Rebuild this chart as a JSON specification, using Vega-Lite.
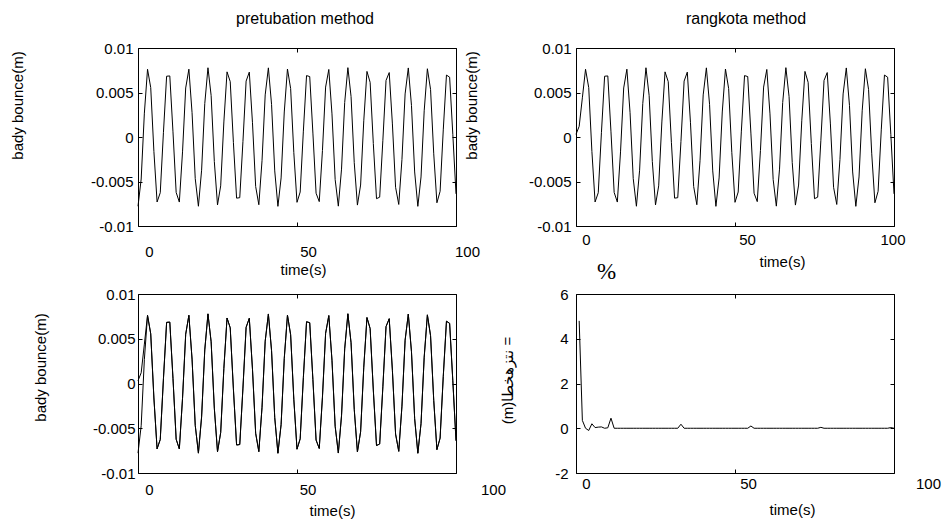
{
  "$schema": "https://vega.github.io/schema/vega-lite/v6.json",
  "background": "white",
  "padding": {"left": 9, "top": 10, "right": 0, "bottom": 0},
  "bounds": "flush",
  "columns": 2,
  "spacing": {"row": 68, "column": 120},
  "datasets": {
    "sol": [
      {"t":0,"pert":-0.00778,"rk":0.0003},{"t":1,"pert":-0.00472,"rk":0.0012},{"t":2,"pert":0.00268,"rk":0.0044},
      {"t":3,"pert":0.00761,"rk":0.00761},{"t":4,"pert":0.00555,"rk":0.00555},{"t":5,"pert":-0.00162,"rk":-0.00162},
      {"t":6,"pert":-0.0073,"rk":-0.0073},{"t":7,"pert":-0.00626,"rk":-0.00626},{"t":8,"pert":0.00053,"rk":0.00053},
      {"t":9,"pert":0.00683,"rk":0.00683},{"t":10,"pert":0.00686,"rk":0.00686},{"t":11,"pert":0.00058,"rk":0.00058},
      {"t":12,"pert":-0.00623,"rk":-0.00623},{"t":13,"pert":-0.00731,"rk":-0.00731},{"t":14,"pert":-0.00167,"rk":-0.00167},
      {"t":15,"pert":0.00551,"rk":0.00551},{"t":16,"pert":0.00762,"rk":0.00762},{"t":17,"pert":0.00273,"rk":0.00273},
      {"t":18,"pert":-0.00468,"rk":-0.00468},{"t":19,"pert":-0.00778,"rk":-0.00778},{"t":20,"pert":-0.00373,"rk":-0.00373},
      {"t":21,"pert":0.00375,"rk":0.00375},{"t":22,"pert":0.00778,"rk":0.00778},{"t":23,"pert":0.00466,"rk":0.00466},
      {"t":24,"pert":-0.00275,"rk":-0.00275},{"t":25,"pert":-0.00763,"rk":-0.00763},{"t":26,"pert":-0.00549,"rk":-0.00549},
      {"t":27,"pert":0.00169,"rk":0.00169},{"t":28,"pert":0.00732,"rk":0.00732},{"t":29,"pert":0.00622,"rk":0.00622},
      {"t":30,"pert":-0.0006,"rk":-0.0006},{"t":31,"pert":-0.00687,"rk":-0.00687},{"t":32,"pert":-0.00682,"rk":-0.00682},
      {"t":33,"pert":-0.00051,"rk":-0.00051},{"t":34,"pert":0.00628,"rk":0.00628},{"t":35,"pert":0.00729,"rk":0.00729},
      {"t":36,"pert":0.0016,"rk":0.0016},{"t":37,"pert":-0.00556,"rk":-0.00556},{"t":38,"pert":-0.00761,"rk":-0.00761},
      {"t":39,"pert":-0.00266,"rk":-0.00266},{"t":40,"pert":0.00473,"rk":0.00473},{"t":41,"pert":0.00777,"rk":0.00777},
      {"t":42,"pert":0.00367,"rk":0.00367},{"t":43,"pert":-0.00381,"rk":-0.00381},{"t":44,"pert":-0.00779,"rk":-0.00779},
      {"t":45,"pert":-0.0046,"rk":-0.0046},{"t":46,"pert":0.00281,"rk":0.00281},{"t":47,"pert":0.00764,"rk":0.00764},
      {"t":48,"pert":0.00545,"rk":0.00545},{"t":49,"pert":-0.00176,"rk":-0.00176},{"t":50,"pert":-0.00734,"rk":-0.00734},
      {"t":51,"pert":-0.00618,"rk":-0.00618},{"t":52,"pert":0.00066,"rk":0.00066},{"t":53,"pert":0.0069,"rk":0.0069},
      {"t":54,"pert":0.00679,"rk":0.00679},{"t":55,"pert":0.00044,"rk":0.00044},{"t":56,"pert":-0.00632,"rk":-0.00632},
      {"t":57,"pert":-0.00726,"rk":-0.00726},{"t":58,"pert":-0.00153,"rk":-0.00153},{"t":59,"pert":0.00561,"rk":0.00561},
      {"t":60,"pert":0.00759,"rk":0.00759},{"t":61,"pert":0.0026,"rk":0.0026},{"t":62,"pert":-0.00478,"rk":-0.00478},
      {"t":63,"pert":-0.00777,"rk":-0.00777},{"t":64,"pert":-0.00361,"rk":-0.00361},{"t":65,"pert":0.00387,"rk":0.00387},
      {"t":66,"pert":0.00779,"rk":0.00779},{"t":67,"pert":0.00455,"rk":0.00455},{"t":68,"pert":-0.00288,"rk":-0.00288},
      {"t":69,"pert":-0.00765,"rk":-0.00765},{"t":70,"pert":-0.0054,"rk":-0.0054},{"t":71,"pert":0.00182,"rk":0.00182},
      {"t":72,"pert":0.00737,"rk":0.00737},{"t":73,"pert":0.00614,"rk":0.00614},{"t":74,"pert":-0.00073,"rk":-0.00073},
      {"t":75,"pert":-0.00693,"rk":-0.00693},{"t":76,"pert":-0.00676,"rk":-0.00676},{"t":77,"pert":-0.00037,"rk":-0.00037},
      {"t":78,"pert":0.00636,"rk":0.00636},{"t":79,"pert":0.00724,"rk":0.00724},{"t":80,"pert":0.00147,"rk":0.00147},
      {"t":81,"pert":-0.00565,"rk":-0.00565},{"t":82,"pert":-0.00758,"rk":-0.00758},{"t":83,"pert":-0.00253,"rk":-0.00253},
      {"t":84,"pert":0.00484,"rk":0.00484},{"t":85,"pert":0.00776,"rk":0.00776},{"t":86,"pert":0.00355,"rk":0.00355},
      {"t":87,"pert":-0.00393,"rk":-0.00393},{"t":88,"pert":-0.00779,"rk":-0.00779},{"t":89,"pert":-0.00449,"rk":-0.00449},
      {"t":90,"pert":0.00294,"rk":0.00294},{"t":91,"pert":0.00767,"rk":0.00767},{"t":92,"pert":0.00535,"rk":0.00535},
      {"t":93,"pert":-0.00189,"rk":-0.00189},{"t":94,"pert":-0.00739,"rk":-0.00739},{"t":95,"pert":-0.0061,"rk":-0.0061},
      {"t":96,"pert":0.0008,"rk":0.0008},{"t":97,"pert":0.00696,"rk":0.00696},{"t":98,"pert":0.00672,"rk":0.00672},
      {"t":99,"pert":0.0003,"rk":0.0003},{"t":100,"pert":-0.00639,"rk":-0.00639}
    ],
    "err": [
      {"t":1,"e":4.8},{"t":2,"e":0.35},{"t":3,"e":0},{"t":4,"e":-0.1},{"t":5,"e":0.2},{"t":6,"e":0.03},{"t":7,"e":0.05},
      {"t":8,"e":0.06},{"t":9,"e":0},{"t":10,"e":0.02},{"t":11,"e":0.45},{"t":12,"e":0},{"t":13,"e":0},{"t":14,"e":0},
      {"t":15,"e":0},{"t":16,"e":0},{"t":17,"e":0},{"t":18,"e":0},{"t":19,"e":0},{"t":20,"e":0},{"t":21,"e":0},
      {"t":22,"e":0},{"t":23,"e":0},{"t":24,"e":0},{"t":25,"e":0},{"t":26,"e":0},{"t":27,"e":0},{"t":28,"e":0},
      {"t":29,"e":0},{"t":30,"e":0},{"t":31,"e":0},{"t":32,"e":0},{"t":33,"e":0.18},{"t":34,"e":0},{"t":35,"e":0},
      {"t":36,"e":0},{"t":37,"e":0},{"t":38,"e":0},{"t":39,"e":0},{"t":40,"e":0},{"t":41,"e":0},{"t":42,"e":0},
      {"t":43,"e":0},{"t":44,"e":0},{"t":45,"e":0},{"t":46,"e":0},{"t":47,"e":0},{"t":48,"e":0},{"t":49,"e":0},
      {"t":50,"e":0},{"t":51,"e":0},{"t":52,"e":0},{"t":53,"e":0},{"t":54,"e":0},{"t":55,"e":0.1},{"t":56,"e":0},
      {"t":57,"e":0},{"t":58,"e":0},{"t":59,"e":0},{"t":60,"e":0},{"t":61,"e":0},{"t":62,"e":0},{"t":63,"e":0},
      {"t":64,"e":0},{"t":65,"e":0},{"t":66,"e":0},{"t":67,"e":0},{"t":68,"e":0},{"t":69,"e":0},{"t":70,"e":0},
      {"t":71,"e":0},{"t":72,"e":0},{"t":73,"e":0},{"t":74,"e":0},{"t":75,"e":0},{"t":76,"e":0},{"t":77,"e":0.04},
      {"t":78,"e":0},{"t":79,"e":0},{"t":80,"e":0},{"t":81,"e":0},{"t":82,"e":0},{"t":83,"e":0},{"t":84,"e":0},
      {"t":85,"e":0},{"t":86,"e":0},{"t":87,"e":0},{"t":88,"e":0},{"t":89,"e":0},{"t":90,"e":0},{"t":91,"e":0},
      {"t":92,"e":0},{"t":93,"e":0},{"t":94,"e":0},{"t":95,"e":0},{"t":96,"e":0},{"t":97,"e":0},{"t":98,"e":0},
      {"t":99,"e":0.03},{"t":100,"e":0}
    ]
  },
  "concat": [
    {
      "width": 318, "height": 178,
      "data": {"name": "sol"},
      "title": {"text": "pretubation method", "dx": 8, "offset": 1, "baseline": "alphabetic", "frame": "group"},
      "layer": [
        {
          "mark": {"type": "line"},
          "encoding": {
            "x": {"field": "t", "type": "quantitative", "scale": {"domain": [0, 100], "nice": false, "zero": false},
              "axis": {"values": [0, 50, 100], "labelOffset": 11, "labelPadding": 22, "title": "time(s)", "titleX": 165, "titleY": 43}},
            "y": {"field": "pert", "type": "quantitative", "scale": {"domain": [-0.01, 0.01], "nice": false, "zero": false},
              "axis": {"values": [-0.01, -0.005, 0, 0.005, 0.01], "labelExpr": "toString(datum.value)", "labelPadding": 9, "title": "bady bounce(m)", "titleX": -121, "titleY": 57}}
          }
        },
        {
          "mark": {"type": "point", "opacity": 0},
          "encoding": {
            "x": {"field": "t", "type": "quantitative", "axis": {"orient": "top", "values": [0, 50, 100], "labels": false, "title": null}},
            "y": {"field": "pert", "type": "quantitative", "axis": {"orient": "right", "values": [-0.01, -0.005, 0, 0.005, 0.01], "labels": false, "title": null}}
          }
        }
      ],
      "resolve": {"axis": {"x": "independent", "y": "independent"}}
    },
    {
      "width": 318, "height": 178,
      "data": {"name": "sol"},
      "title": {"text": "rangkota method", "dx": 11, "offset": 1, "baseline": "alphabetic", "frame": "group"},
      "layer": [
        {
          "mark": {"type": "line"},
          "encoding": {
            "x": {"field": "t", "type": "quantitative", "scale": {"domain": [0, 100], "nice": false, "zero": false},
              "axis": {"values": [0, 50, 100], "labelOffset": {"condition": [{"test": "datum.value == 0", "value": 10}, {"test": "datum.value == 50", "value": 12}], "value": -1.5}, "labelPadding": 10, "title": "time(s)", "titleX": 206, "titleY": 35}},
            "y": {"field": "rk", "type": "quantitative", "scale": {"domain": [-0.01, 0.01], "nice": false, "zero": false},
              "axis": {"values": [-0.01, -0.005, 0, 0.005, 0.01], "labelExpr": "toString(datum.value)", "labelPadding": 9, "title": "bady bounce(m)", "titleX": -105, "titleY": 57}}
          }
        },
        {
          "mark": {"type": "point", "opacity": 0},
          "encoding": {
            "x": {"field": "t", "type": "quantitative", "axis": {"orient": "top", "values": [0, 50, 100], "labels": false, "title": null}},
            "y": {"field": "rk", "type": "quantitative", "axis": {"orient": "right", "values": [-0.01, -0.005, 0, 0.005, 0.01], "labels": false, "title": null}}
          }
        }
      ],
      "resolve": {"axis": {"x": "independent", "y": "independent"}}
    },
    {
      "width": 318, "height": 179,
      "data": {"name": "sol"},
      "layer": [
        {
          "mark": {"type": "line"},
          "encoding": {
            "x": {"field": "t", "type": "quantitative", "scale": {"domain": [0, 100], "nice": false, "zero": false},
              "axis": {"values": [0, 50, 100], "labelOffset": {"condition": [{"test": "datum.value == 0", "value": 11}, {"test": "datum.value == 50", "value": 10.5}], "value": 37}, "labelPadding": 13, "title": "time(s)", "titleX": 194, "titleY": 37}},
            "y": {"field": "pert", "type": "quantitative", "scale": {"domain": [-0.01, 0.01], "nice": false, "zero": false},
              "axis": {"values": [-0.01, -0.005, 0, 0.005, 0.01], "labelExpr": "toString(datum.value)", "labelPadding": 7, "title": "bady bounce(m)", "titleX": -98, "titleY": 73}}
          }
        },
        {
          "mark": {"type": "line"},
          "encoding": {
            "x": {"field": "t", "type": "quantitative", "axis": null},
            "y": {"field": "rk", "type": "quantitative", "axis": null}
          }
        },
        {
          "mark": {"type": "point", "opacity": 0},
          "encoding": {
            "x": {"field": "t", "type": "quantitative", "axis": {"orient": "top", "values": [0, 50, 100], "labels": false, "title": null}},
            "y": {"field": "pert", "type": "quantitative", "axis": {"orient": "right", "values": [-0.01, -0.005, 0, 0.005, 0.01], "labels": false, "title": null}}
          }
        }
      ],
      "resolve": {"axis": {"x": "independent", "y": "independent"}}
    },
    {
      "width": 318, "height": 179,
      "data": {"name": "err"},
      "title": {"text": "%", "anchor": "start", "frame": "group", "dx": 21, "offset": -15, "baseline": "alphabetic", "font": "Liberation Serif", "fontSize": 23},
      "layer": [
        {
          "mark": {"type": "line"},
          "encoding": {
            "x": {"field": "t", "type": "quantitative", "scale": {"domain": [0, 100], "nice": false, "zero": false},
              "axis": {"values": [0, 50, 100], "labelOffset": {"condition": [{"test": "datum.value == 0", "value": 10}, {"test": "datum.value == 50", "value": 13}], "value": 34}, "labelPadding": 7, "title": "time(s)", "titleX": 216, "titleY": 36}},
            "y": {"field": "e", "type": "quantitative", "scale": {"domain": [-2, 6], "nice": false, "zero": false},
              "axis": {"values": [-2, 0, 2, 4, 6], "labelExpr": "toString(datum.value)", "labelPadding": 12, "title": "(m)نتزهخطا  =", "titleX": -69, "titleY": 86}}
          }
        },
        {
          "mark": {"type": "point", "opacity": 0},
          "encoding": {
            "x": {"field": "t", "type": "quantitative", "axis": {"orient": "top", "values": [0, 50, 100], "labels": false, "title": null}},
            "y": {"field": "e", "type": "quantitative", "axis": {"orient": "right", "values": [-2, 0, 2, 4, 6], "labels": false, "title": null}}
          }
        }
      ],
      "resolve": {"axis": {"x": "independent", "y": "independent"}}
    }
  ],
  "config": {
    "font": "Liberation Sans",
    "view": {"stroke": "black", "strokeWidth": 1},
    "axis": {
      "domain": false, "grid": false, "tickSize": -4, "tickColor": "black", "tickWidth": 1,
      "minExtent": 0,
      "labelColor": "black", "labelFont": "Liberation Sans", "labelFontSize": 15,
      "titleColor": "black", "titleFont": "Liberation Sans", "titleFontSize": 15, "titleFontWeight": "normal",
      "titleAlign": "center", "titleBaseline": "middle",
      "labelFlush": false, "labelOverlap": false, "labelBound": false
    },
    "title": {"font": "Liberation Sans", "fontSize": 16, "fontWeight": "normal", "color": "black", "anchor": "middle"},
    "line": {"color": "black", "strokeWidth": 1}
  }
}
